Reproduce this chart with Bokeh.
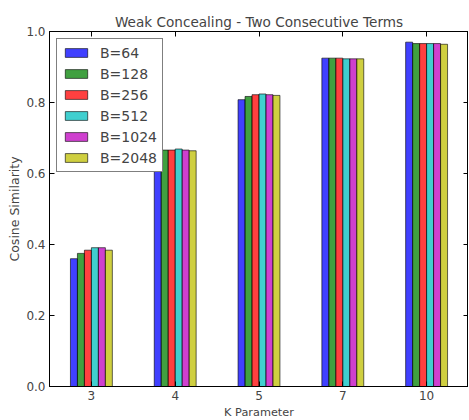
from bokeh.plotting import figure
from bokeh.models import ColumnDataSource, FactorRange, Range1d, LinearAxis, CategoricalAxis, Legend, LegendItem, FixedTicker, CustomJSTickFormatter
from bokeh.transform import dodge
from bokeh.embed import file_html
from bokeh.resources import INLINE

k_values = ["3", "4", "5", "7", "10"]
series_names = ["B=64", "B=128", "B=256", "B=512", "B=1024", "B=2048"]
b64 = [0.360, 0.643, 0.808, 0.925, 0.970]
b128 = [0.375, 0.666, 0.817, 0.925, 0.966]
b256 = [0.384, 0.666, 0.822, 0.925, 0.966]
b512 = [0.391, 0.669, 0.824, 0.923, 0.966]
b1024 = [0.391, 0.666, 0.822, 0.923, 0.966]
b2048 = [0.384, 0.664, 0.820, 0.923, 0.964]
y_ticks = [0.0, 0.2, 0.4, 0.6, 0.8, 1.0]
colors = ["#0000ff", "#008000", "#ff0000", "#00bfbf", "#bf00bf", "#bfbf00"]

series = [b64, b128, b256, b512, b1024, b2048]
data = {"k": k_values}
for name, vals in zip(series_names, series):
    data[name] = vals
source = ColumnDataSource(data)

FONT = "DejaVu Sans"
p = figure(x_range=FactorRange(factors=k_values, range_padding=0), y_range=Range1d(0, 1.0),
           frame_width=419, frame_height=355, output_backend="svg", toolbar_location=None,
           min_border_left=49, min_border_right=0, min_border_top=31, min_border_bottom=33)
p.title.text = "Weak Concealing - Two Consecutive Terms"
p.title.align = "center"
p.title.text_font = FONT
p.title.text_font_size = "13.6px"
p.title.text_font_style = "normal"
p.title.offset = 0
p.title.standoff = 4

bw = 1.0 / 12
items = []
for i, (name, col) in enumerate(zip(series_names, colors)):
    off = (i - 2.5) * bw
    r = p.vbar(x=dodge("k", off, range=p.x_range), top=name, width=bw, bottom=0,
               source=source, fill_color=col, fill_alpha=0.75, line_color="black", line_alpha=0.6, line_width=1)
    items.append(LegendItem(label=name, renderers=[r]))

legend = Legend(items=items, location="top_left")
legend.label_text_font = FONT
legend.label_text_font_size = "14px"
legend.glyph_width = 28
legend.glyph_height = 11
legend.label_height = 17
legend.spacing = 4
legend.padding = 5
legend.margin = 7
legend.border_line_color = "black"
legend.border_line_width = 1
legend.label_standoff = 10
legend.background_fill_alpha = 1.0
p.add_layout(legend, "center")

p.xgrid.visible = False
p.ygrid.visible = False
p.outline_line_color = "black"
p.outline_line_width = 1

for ax in [p.xaxis[0], p.yaxis[0]]:
    ax.major_label_text_font = FONT
    ax.major_label_text_font_size = "12px"
    ax.axis_label_text_font = FONT
    ax.axis_label_text_font_size = "11.3px"
    ax.axis_label_text_font_style = "normal"
    ax.major_tick_in = 5
    ax.major_tick_out = 0
    ax.minor_tick_in = 0
    ax.minor_tick_out = 0
    ax.axis_line_color = "black"

p.xaxis[0].axis_label = "K Parameter"
p.xaxis[0].axis_label_standoff = 3
p.xaxis[0].major_label_standoff = 4
p.yaxis[0].axis_label = "Cosine Similarity"
p.yaxis[0].axis_label_text_font_size = "12.5px"
p.yaxis[0].axis_label_standoff = 1
p.yaxis[0].major_label_standoff = 4
p.yaxis[0].ticker = FixedTicker(ticks=y_ticks)
p.yaxis[0].formatter = CustomJSTickFormatter(code="return tick.toFixed(1);")

top_ax = CategoricalAxis(major_tick_in=5, major_tick_out=0, major_label_text_font_size="0px",
                         major_label_standoff=0, major_label_text_alpha=0)
right_ax = LinearAxis(ticker=FixedTicker(ticks=y_ticks), major_tick_in=5, major_tick_out=0,
                      minor_tick_in=0, minor_tick_out=0, major_label_text_font_size="0px",
                      major_label_standoff=0, major_label_text_alpha=0)
p.add_layout(top_ax, "above")
p.add_layout(right_ax, "right")

open("out.html", "w").write(file_html(p, INLINE))
